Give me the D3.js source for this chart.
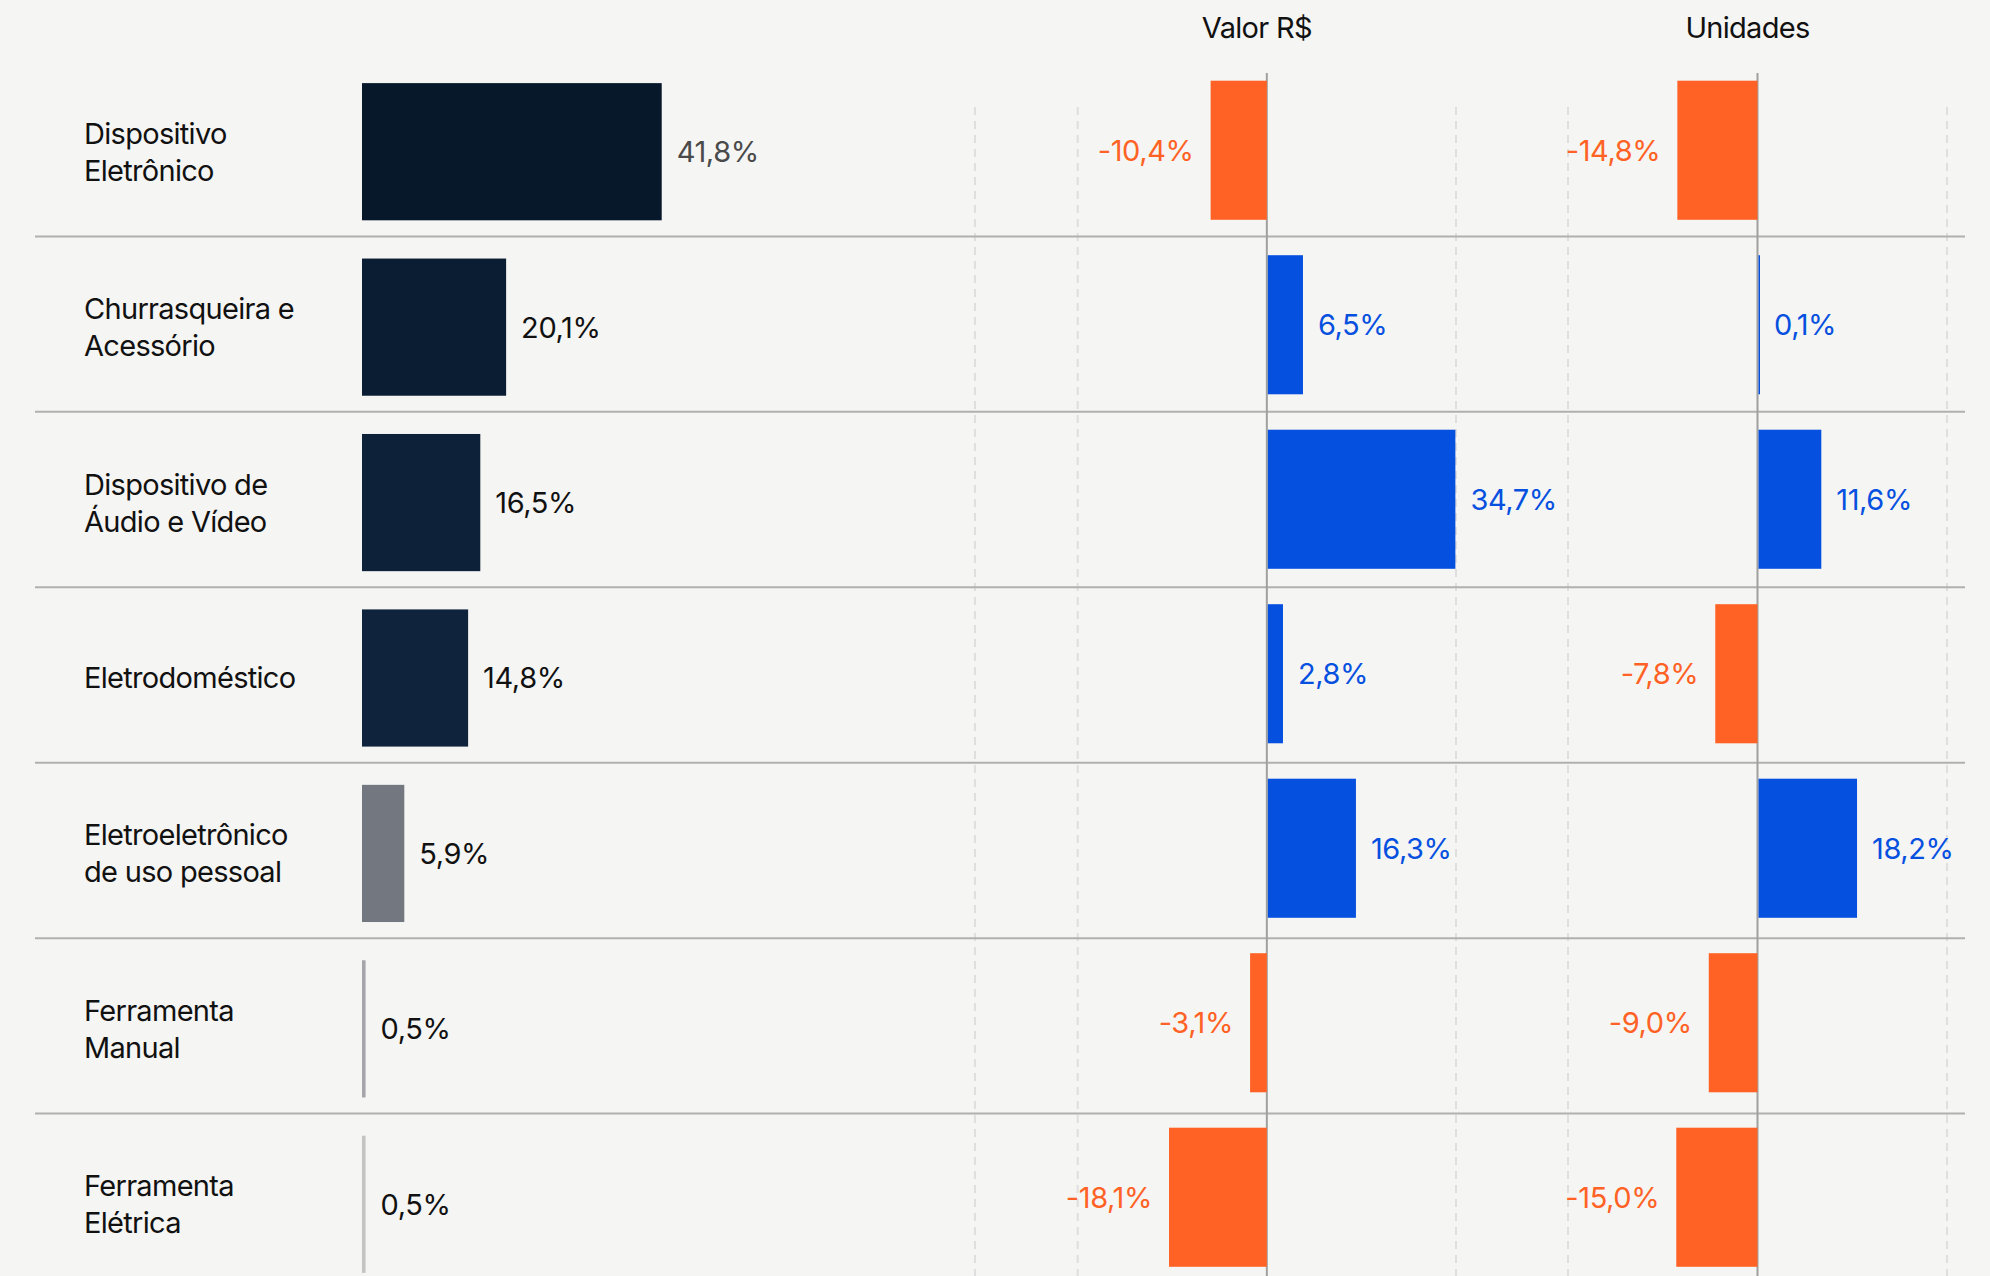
<!DOCTYPE html>
<html>
<head>
<meta charset="utf-8">
<script src="https://cdn.jsdelivr.net/npm/d3@7"></script>
<style>
  body { margin: 0; background: #f5f5f3; }
  svg { display: block; font-family: Inter, "Noto Sans", sans-serif; }
</style>
</head>
<body>
<div id="graph"></div>
<script>
// --------------------------------------
//  Data
// --------------------------------------

const categories = [
  "Dispositivo Eletrônico",
  "Churrasqueira e Acessório",
  "Dispositivo de Áudio e Vídeo",
  "Eletrodoméstico",
  "Eletroeletrônico de uso pessoal",
  "Ferramenta Manual",
  "Ferramenta Elétrica"
];
const categoryLines = [
  ["Dispositivo", "Eletrônico"],
  ["Churrasqueira e", "Acessório"],
  ["Dispositivo de", "Áudio e Vídeo"],
  ["Eletrodoméstico"],
  ["Eletroeletrônico", "de uso pessoal"],
  ["Ferramenta", "Manual"],
  ["Ferramenta", "Elétrica"]
];
const share = [41.8, 20.1, 16.5, 14.8, 5.9, 0.5, 0.5];
const valor = [-10.4, 6.5, 34.7, 2.8, 16.3, -3.1, -18.1];
const unidades = [-14.8, 0.1, 11.6, -7.8, 18.2, -9.0, -15.0];
const valorGrid = [-54, -35, 35];
const unidadesGrid = [-35, 35];
const headers = ["Valor R$", "Unidades"];

// --------------------------------------
//  Canvas
// --------------------------------------

const W = 1990, H = 1276;

const svg = d3.select("#graph")
  .append("svg")
  .attr("width", W)
  .attr("height", H);

svg.append("rect").attr("width", W).attr("height", H).attr("fill", "#f5f5f3");

// --------------------------------------
//  Scales
// --------------------------------------

const yShare = d3.scaleBand()
  .domain(categories)
  .range([64, 1292])
  .paddingInner(0.218)
  .paddingOuter(0.109);

const yDelta = d3.scaleBand()
  .domain(categories)
  .range([63, 1284.5])
  .paddingInner(0.203)
  .paddingOuter(0.1015);

const xShare = d3.scaleLinear().domain([0, 50]).range([362, 720.5]);
const xValor = d3.scaleLinear().domain([-54, 35]).range([975, 1456]);
const xUnid = d3.scaleLinear().domain([-35, 35]).range([1568, 1947]);

const shareColor = ["#06182a", "#0a1d33", "#0d2138", "#0f243c", "#737880", "#a6a6aa", "#c4c4c4"];
const orange = "#ff6224", blue = "#0650e0";

const fmt = (v) => v.toFixed(1).replace(".", ",") + "%";

// --------------------------------------
//  Grid, separators
// --------------------------------------

const panels = [
  { x: xValor, values: valor, grid: valorGrid, title: headers[0] },
  { x: xUnid, values: unidades, grid: unidadesGrid, title: headers[1] }
];

panels.forEach((p) => {
  svg.append("g")
    .selectAll("line")
    .data(p.grid)
    .join("line")
    .attr("x1", (d) => p.x(d))
    .attr("x2", (d) => p.x(d))
    .attr("y1", 107)
    .attr("y2", H)
    .attr("stroke", "#e0dfdf")
    .attr("stroke-width", 2)
    .attr("stroke-dasharray", "8,6");
});

const step = yShare.step(), bw = yShare.bandwidth();

svg.append("g")
  .selectAll("line")
  .data(categories.slice(0, -1))
  .join("line")
  .attr("x1", 35)
  .attr("x2", 1965)
  .attr("y1", (d) => yShare(d) + bw + (step - bw) / 2 - 3)
  .attr("y2", (d) => yShare(d) + bw + (step - bw) / 2 - 3)
  .attr("stroke", "#b0b0b0")
  .attr("stroke-width", 2);

// --------------------------------------
//  Share bars
// --------------------------------------

svg.append("g")
  .selectAll("rect")
  .data(categories)
  .join("rect")
  .attr("x", xShare(0))
  .attr("y", (d) => yShare(d))
  .attr("width", (d, i) => Math.max(3, xShare(share[i]) - xShare(0)))
  .attr("height", bw)
  .attr("fill", (d, i) => shareColor[i]);

svg.append("g")
  .selectAll("text")
  .data(categories)
  .join("text")
  .attr("x", (d, i) => Math.max(xShare(share[i]), xShare(0) + 3) + 15)
  .attr("y", (d) => yShare(d) + bw / 2)
  .attr("dy", "0.36em")
  .attr("font-size", 29)
  .attr("letter-spacing", -0.4)
  .attr("fill", (d, i) => (i === 0 ? "#4a4a4a" : "#111"))
  .text((d, i) => fmt(share[i]));

// category labels
const lineH = 37;
svg.append("g")
  .selectAll("text")
  .data(categories)
  .join("text")
  .attr("x", 84)
  .attr("y", (d, i) => yShare(d) + bw / 2 - (categoryLines[i].length - 1) * lineH / 2)
  .attr("font-size", 29)
  .attr("letter-spacing", -0.7)
  .attr("fill", "#111")
  .selectAll("tspan")
  .data((d, i) => categoryLines[i])
  .join("tspan")
  .attr("x", 84)
  .attr("dy", (d, j) => (j === 0 ? "0.36em" : lineH))
  .text((d) => d);

// --------------------------------------
//  Change bars
// --------------------------------------

const dbw = yDelta.bandwidth();

panels.forEach((p) => {
  const g = svg.append("g");

  g.append("line")
    .attr("x1", p.x(0))
    .attr("x2", p.x(0))
    .attr("y1", 73)
    .attr("y2", H)
    .attr("stroke", "#a0a0a0")
    .attr("stroke-width", 2);

  g.selectAll("rect")
    .data(categories)
    .join("rect")
    .attr("x", (d, i) => (p.values[i] < 0 ? p.x(p.values[i]) : p.x(0) + 1))
    .attr("y", (d) => yDelta(d))
    .attr("width", (d, i) => Math.max(1.5, Math.abs(p.x(p.values[i]) - p.x(0))))
    .attr("height", dbw)
    .attr("fill", (d, i) => (p.values[i] < 0 ? orange : blue));

  g.selectAll("text.val")
    .data(categories)
    .join("text")
    .attr("class", "val")
    .attr("x", (d, i) => (p.values[i] < 0 ? p.x(p.values[i]) - 17 : p.x(p.values[i]) + 16))
    .attr("y", (d) => yDelta(d) + dbw / 2)
    .attr("dy", "0.36em")
    .attr("text-anchor", (d, i) => (p.values[i] < 0 ? "end" : "start"))
    .attr("font-size", 29)
    .attr("letter-spacing", -0.4)
    .attr("fill", (d, i) => (p.values[i] < 0 ? orange : blue))
    .text((d, i) => fmt(p.values[i]));

  svg.append("text")
    .attr("x", p.x(0) - 10)
    .attr("y", 38)
    .attr("text-anchor", "middle")
    .attr("font-size", 29)
    .attr("font-weight", 400)
    .attr("letter-spacing", -0.7)
    .attr("fill", "#111")
    .text(p.title);
});
</script>
</body>
</html>
